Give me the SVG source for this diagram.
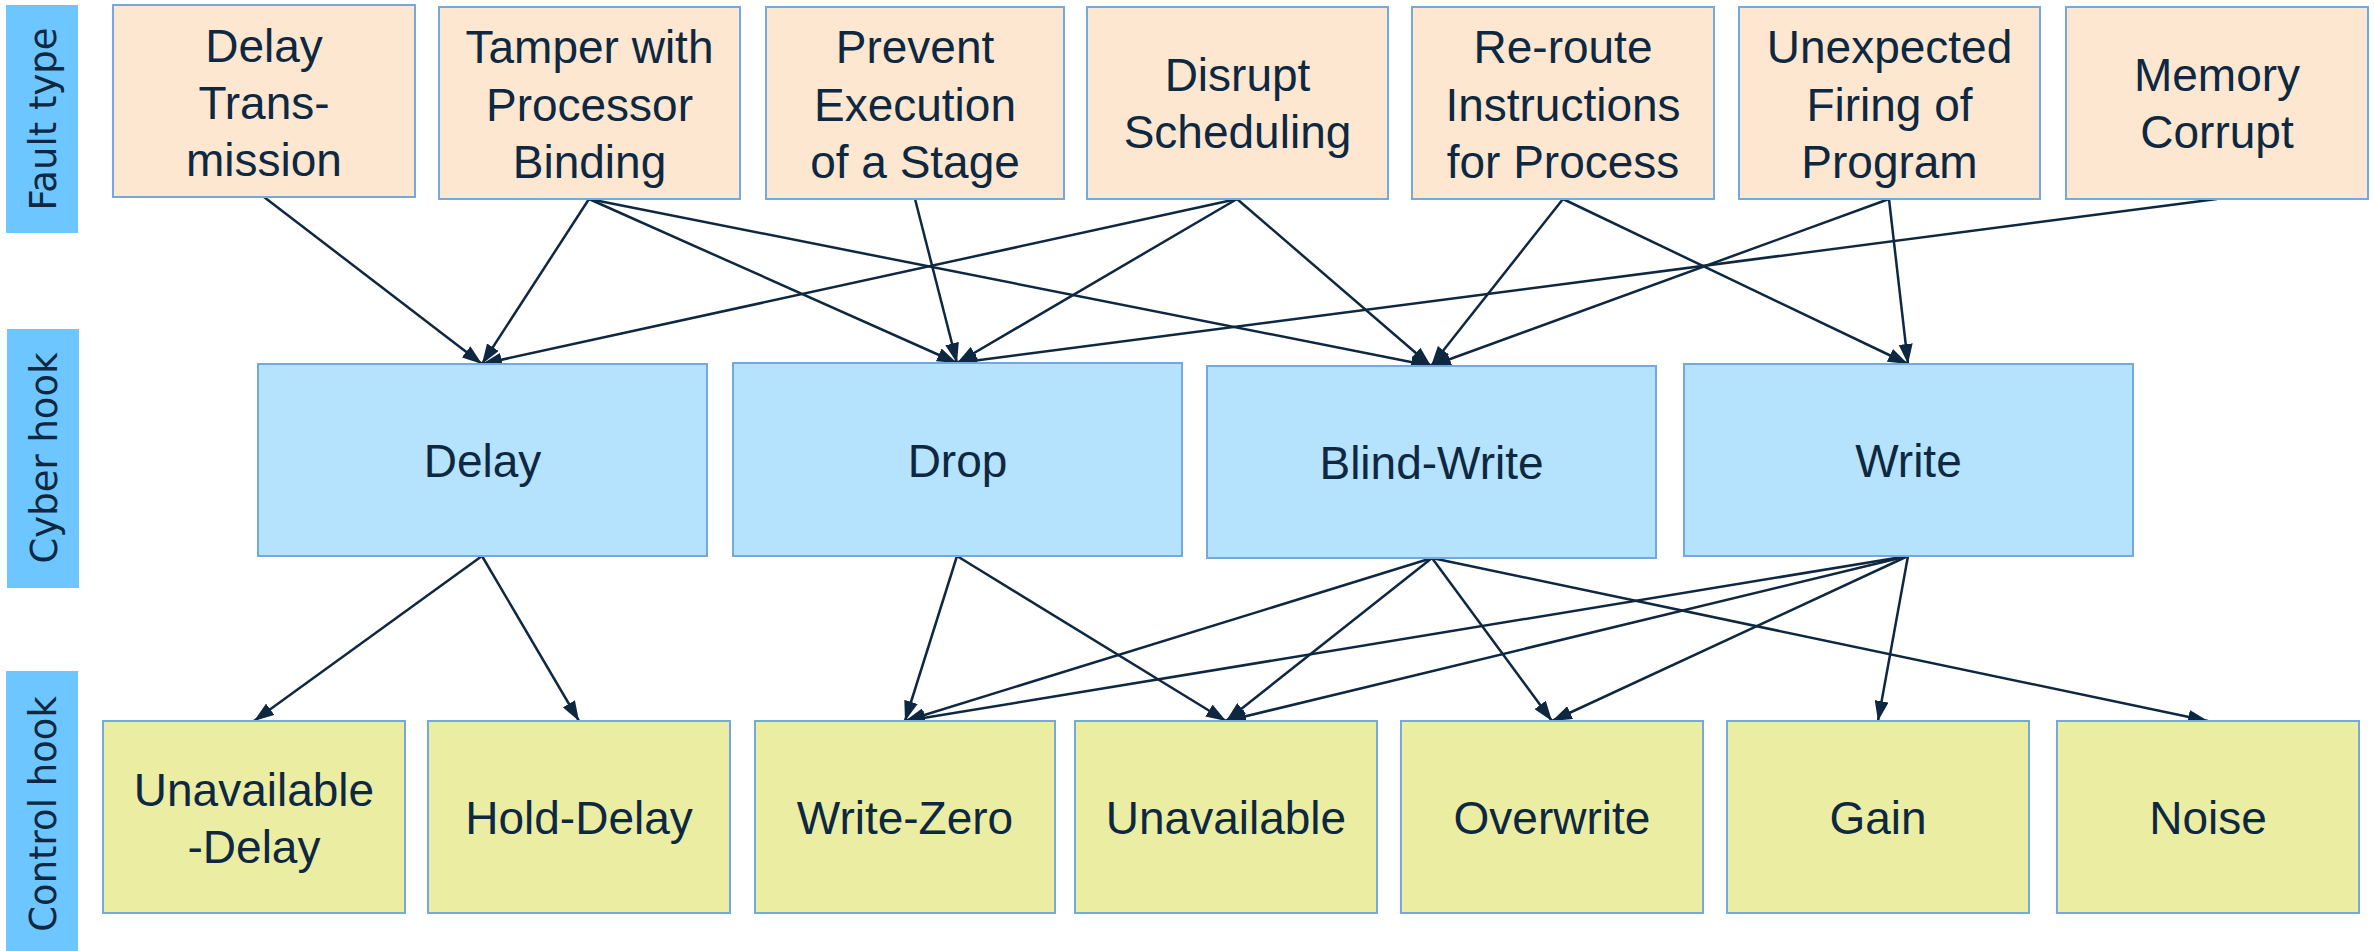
<svg xmlns="http://www.w3.org/2000/svg" width="2374" height="951" viewBox="0 0 2374 951">
  <style>
    .bar { fill: #6DC6FF; }
    .bar-label { font-family: "DejaVu Sans", "Liberation Sans", sans-serif; font-size: 37px; fill: #0E2841; text-anchor: middle; }
    .fault { fill: #FDE7D0; stroke: #74A9DF; stroke-width: 2; }
    .cyber { fill: #B5E2FD; stroke: #74A9DF; stroke-width: 2; }
    .control { fill: #EBEDA3; stroke: #74A9DF; stroke-width: 2; }
    .label { font-family: "Liberation Sans", Arial, sans-serif; font-size: 46px; fill: #0E2841; text-anchor: middle; }
    .edge { stroke: #0E2841; stroke-width: 2.5; fill: none; marker-end: url(#arrow); }
  </style>
  <defs>
    <marker id="arrow" markerUnits="userSpaceOnUse" markerWidth="20" markerHeight="14" refX="20" refY="7" orient="auto">
      <path d="M0,0 L20,7 L0,14 z" fill="#0E2841"/>
    </marker>
  </defs>

  <rect width="2374" height="951" fill="#FFFFFF"/>

  <!-- row labels -->
  <g id="lane-fault">
    <rect class="bar" x="6" y="5" width="72" height="228"/>
    <text class="bar-label" transform="translate(56,119) rotate(-90)">Fault type</text>
  </g>
  <g id="lane-cyber">
    <rect class="bar" x="7" y="329" width="72" height="259"/>
    <text class="bar-label" transform="translate(57,458) rotate(-90)">Cyber hook</text>
  </g>
  <g id="lane-control">
    <rect class="bar" x="6" y="671" width="72" height="280"/>
    <text class="bar-label" transform="translate(56,814) rotate(-90)">Control hook</text>
  </g>

  <!-- connectors -->
  <g id="connectors">
    <line class="edge" x1="264" y1="197" x2="482" y2="364"/>
    <line class="edge" x1="589" y1="199" x2="482" y2="364"/>
    <line class="edge" x1="589" y1="199" x2="957" y2="363"/>
    <line class="edge" x1="589" y1="199" x2="1431" y2="366"/>
    <line class="edge" x1="915" y1="199" x2="957" y2="363"/>
    <line class="edge" x1="1237" y1="199" x2="482" y2="364"/>
    <line class="edge" x1="1237" y1="199" x2="957" y2="363"/>
    <line class="edge" x1="1237" y1="199" x2="1431" y2="366"/>
    <line class="edge" x1="1563" y1="199" x2="1431" y2="366"/>
    <line class="edge" x1="1563" y1="199" x2="1908" y2="364"/>
    <line class="edge" x1="1889" y1="199" x2="1431" y2="366"/>
    <line class="edge" x1="1889" y1="199" x2="1908" y2="364"/>
    <line class="edge" x1="2217" y1="199" x2="957" y2="363"/>

    <line class="edge" x1="482" y1="556" x2="254" y2="721"/>
    <line class="edge" x1="482" y1="556" x2="579" y2="721"/>
    <line class="edge" x1="957" y1="556" x2="905" y2="721"/>
    <line class="edge" x1="957" y1="556" x2="1226" y2="721"/>
    <line class="edge" x1="1432" y1="558" x2="905" y2="721"/>
    <line class="edge" x1="1432" y1="558" x2="1226" y2="721"/>
    <line class="edge" x1="1432" y1="558" x2="1552" y2="721"/>
    <line class="edge" x1="1432" y1="558" x2="2208" y2="721"/>
    <line class="edge" x1="1908" y1="556" x2="905" y2="721"/>
    <line class="edge" x1="1908" y1="556" x2="1226" y2="721"/>
    <line class="edge" x1="1908" y1="556" x2="1552" y2="721"/>
    <line class="edge" x1="1908" y1="556" x2="1878" y2="721"/>
  </g>

  <!-- fault types -->
  <g id="fault-delay-transmission">
    <rect class="fault" x="113" y="5" width="302" height="192"/>
    <text class="label" x="264" y="62">Delay</text>
    <text class="label" x="264" y="119">Trans-</text>
    <text class="label" x="264" y="176">mission</text>
  </g>
  <g id="fault-tamper">
    <rect class="fault" x="439" y="7" width="301" height="192"/>
    <text class="label" x="589.5" y="63">Tamper with</text>
    <text class="label" x="589.5" y="121">Processor</text>
    <text class="label" x="589.5" y="178">Binding</text>
  </g>
  <g id="fault-prevent">
    <rect class="fault" x="766" y="7" width="298" height="192"/>
    <text class="label" x="915" y="63">Prevent</text>
    <text class="label" x="915" y="121">Execution</text>
    <text class="label" x="915" y="178">of a Stage</text>
  </g>
  <g id="fault-disrupt">
    <rect class="fault" x="1087" y="7" width="301" height="192"/>
    <text class="label" x="1237.5" y="91">Disrupt</text>
    <text class="label" x="1237.5" y="148">Scheduling</text>
  </g>
  <g id="fault-reroute">
    <rect class="fault" x="1412" y="7" width="302" height="192"/>
    <text class="label" x="1563" y="63">Re-route</text>
    <text class="label" x="1563" y="121">Instructions</text>
    <text class="label" x="1563" y="178">for Process</text>
  </g>
  <g id="fault-unexpected">
    <rect class="fault" x="1739" y="7" width="301" height="192"/>
    <text class="label" x="1889.5" y="63">Unexpected</text>
    <text class="label" x="1889.5" y="121">Firing of</text>
    <text class="label" x="1889.5" y="178">Program</text>
  </g>
  <g id="fault-memory">
    <rect class="fault" x="2066" y="7" width="302" height="192"/>
    <text class="label" x="2217" y="91">Memory</text>
    <text class="label" x="2217" y="148">Corrupt</text>
  </g>

  <!-- cyber hooks -->
  <g id="cyber-delay">
    <rect class="cyber" x="258" y="364" width="449" height="192"/>
    <text class="label" x="482.5" y="477">Delay</text>
  </g>
  <g id="cyber-drop">
    <rect class="cyber" x="733" y="363" width="449" height="193"/>
    <text class="label" x="957.5" y="477">Drop</text>
  </g>
  <g id="cyber-blind-write">
    <rect class="cyber" x="1207" y="366" width="449" height="192"/>
    <text class="label" x="1431.5" y="479">Blind-Write</text>
  </g>
  <g id="cyber-write">
    <rect class="cyber" x="1684" y="364" width="449" height="192"/>
    <text class="label" x="1908.5" y="477">Write</text>
  </g>

  <!-- control hooks -->
  <g id="control-unavailable-delay">
    <rect class="control" x="103" y="721" width="302" height="192"/>
    <text class="label" x="254" y="806">Unavailable</text>
    <text class="label" x="254" y="863">-Delay</text>
  </g>
  <g id="control-hold-delay">
    <rect class="control" x="428" y="721" width="302" height="192"/>
    <text class="label" x="579" y="834">Hold-Delay</text>
  </g>
  <g id="control-write-zero">
    <rect class="control" x="755" y="721" width="300" height="192"/>
    <text class="label" x="905" y="834">Write-Zero</text>
  </g>
  <g id="control-unavailable">
    <rect class="control" x="1075" y="721" width="302" height="192"/>
    <text class="label" x="1226" y="834">Unavailable</text>
  </g>
  <g id="control-overwrite">
    <rect class="control" x="1401" y="721" width="302" height="192"/>
    <text class="label" x="1552" y="834">Overwrite</text>
  </g>
  <g id="control-gain">
    <rect class="control" x="1727" y="721" width="302" height="192"/>
    <text class="label" x="1878" y="834">Gain</text>
  </g>
  <g id="control-noise">
    <rect class="control" x="2057" y="721" width="302" height="192"/>
    <text class="label" x="2208" y="834">Noise</text>
  </g>
</svg>
